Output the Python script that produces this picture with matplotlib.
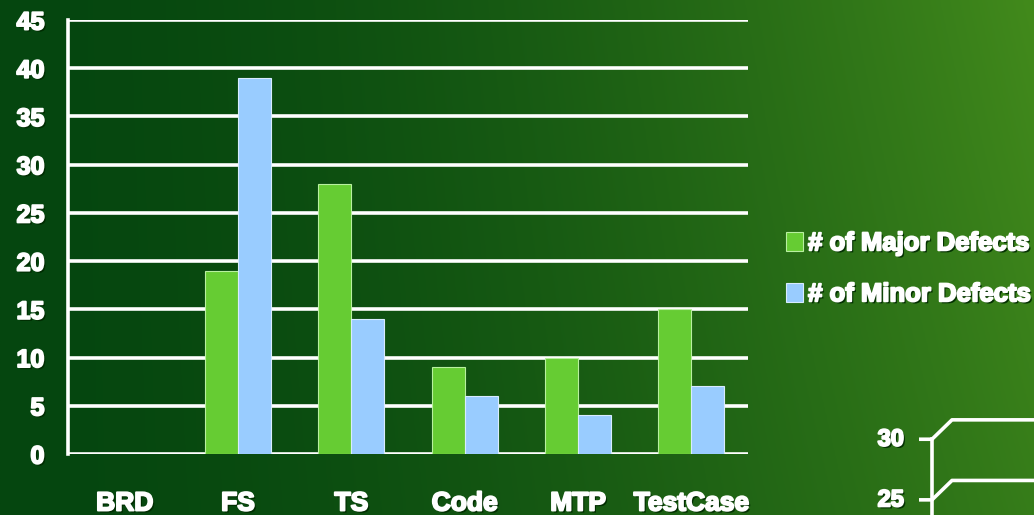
import numpy as np
import matplotlib
matplotlib.use("Agg")
import matplotlib.pyplot as plt
import matplotlib.patheffects as pe

# Defect counts per artifact
categories = ["BRD", "FS", "TS", "Code", "MTP", "TestCase"]
major_defects = [0, 19, 28, 9, 10, 15]
minor_defects = [0, 39, 14, 6, 4, 7]
y_ticks = [0, 5, 10, 15, 20, 25, 30, 35, 40, 45]
series_names = ["# of Major Defects", "# of Minor Defects"]
# second chart peeking in at the bottom right
side_ticks = [30, 25]

GREEN = "#66cc33"
BLUE = "#99ccff"
FONT = ["Liberation Sans Narrow", "Liberation Sans", "DejaVu Sans"]

W, H = 1034, 515
fig = plt.figure(figsize=(W / 100, H / 100), dpi=100)

# background: dark green on the left, brighter toward the right
bg = fig.add_axes([0, 0, 1, 1])
xx, yy = np.meshgrid(np.linspace(0, 1, 400), np.linspace(0, 1, 200))
left = np.array([5, 70, 15]) / 255
right = np.array([66, 138, 28]) / 255
t = np.clip(xx ** 1.7 * (1.0 - 0.2 * yy), 0, 1)
img = left + (right - left) * t[..., None]
bg.imshow(img, aspect="auto", extent=[0, 1, 0, 1], origin="upper")
bg.set_axis_off()

shadow = [pe.withSimplePatchShadow(offset=(1.5, -1.5), shadow_rgbFace="#002a00", alpha=0.9),
          pe.withStroke(linewidth=1.4, foreground="white")]

ax = fig.add_axes([68 / W, (H - 454) / H, 680 / W, 434 / H])
ax.set_facecolor("none")
x = np.arange(len(categories))
bw = 0.29
ax.bar(x - bw / 2, major_defects, bw, color=GREEN, edgecolor="#b8f0a0", linewidth=0.8, zorder=3,
       label=series_names[0])
ax.bar(x + bw / 2, minor_defects, bw, color=BLUE, edgecolor="#d8ecff", linewidth=0.8, zorder=3,
       label=series_names[1])

ax.set_xlim(-0.5, len(categories) - 0.5)
ax.set_ylim(0, 45)
ax.set_yticks(y_ticks)
ax.yaxis.grid(True, color="white", linewidth=2.6, zorder=1)
ax.set_axisbelow(True)
for s in ["top", "right", "bottom"]:
    ax.spines[s].set_visible(False)
ax.spines["left"].set_color("white")
ax.spines["left"].set_linewidth(2.6)
ax.tick_params(length=0)
ax.set_xticks(x)
ax.set_xticklabels(categories)
ax.tick_params(axis="x", pad=27)
ax.tick_params(axis="y", pad=17)
for lbl in ax.get_xticklabels():
    lbl.set(family=FONT, fontsize=19, fontweight="bold", color="white", path_effects=shadow)
for lbl in ax.get_yticklabels():
    lbl.set(family=FONT, fontsize=18, fontweight="bold", color="white", path_effects=shadow)

leg = fig.legend(loc="upper left", bbox_to_anchor=(776 / W, 1 - 221 / H), frameon=False,
                 handlelength=0.65, handleheight=0.8, handletextpad=0.2, labelspacing=1.05,
                 borderaxespad=0, prop={"family": FONT, "size": 18.5, "weight": "bold"})
for txt in leg.get_texts():
    txt.set_color("white")
    txt.set_path_effects(shadow)

# partial axis of the next chart
ax2 = fig.add_axes([900 / W, 0, (W - 900) / W, 100 / H])
ax2.set_axis_off()
ax2.set_xlim(0, 134)
ax2.set_ylim(23.75, 32)
for v in side_ticks:
    ax2.plot([19, 32, 52, 134], [v, v, v + 1.6, v + 1.6], color="white", lw=2.6,
             solid_capstyle="butt", solid_joinstyle="round")
    ax2.text(4, v, str(v), ha="right", va="center", color="white", fontsize=17,
             fontweight="bold", family=FONT, path_effects=shadow)
ax2.plot([32, 32], [23.75, side_ticks[0]], color="white", lw=2.6)

fig.savefig("out.png", dpi=100)
